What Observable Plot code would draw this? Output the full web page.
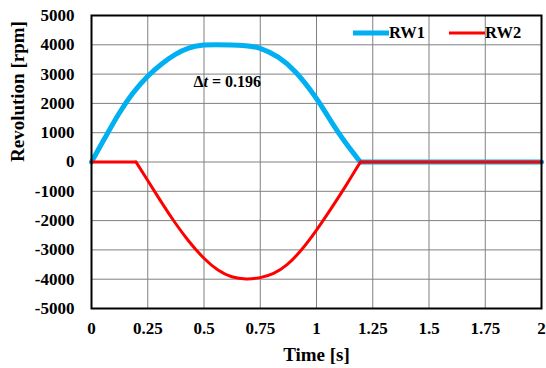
<!DOCTYPE html>
<html>
<head>
<meta charset="utf-8">
<script src="https://cdn.jsdelivr.net/npm/d3@7"></script>
<script src="https://cdn.jsdelivr.net/npm/@observablehq/plot@0.6"></script>
<style>
  html, body { margin: 0; padding: 0; background: #fff; }
  #wrap { position: relative; width: 546px; height: 368px; font-family: "Liberation Serif", "Times New Roman", serif; font-weight: bold; }
  #legend { position: absolute; top: 24px; left: 353px; display: flex; align-items: center; font-size: 16.5px; line-height: 18px; }
  #legend .item { display: flex; align-items: center; }
  #legend svg { display: block; }
</style>
</head>
<body>
<div id="wrap">
  <div id="chart"></div>
  <div id="legend"></div>
</div>
<script>
// ---- data ----
const rw1Time  = [0, 0.062, 0.121, 0.18, 0.25, 0.314, 0.373, 0.432, 0.491, 0.55, 0.62, 0.684, 0.75, 0.831, 0.904, 1.0, 1.066, 1.125, 1.195, 2.0];
const rw1Value = [0, 857, 1657, 2343, 2950, 3371, 3690, 3909, 4000, 4000, 4000, 3977, 3915, 3600, 3143, 2200, 1360, 680, 0, 0];
const rw1Breaks = [1.195];

const rw2Time  = [0, 0.198, 0.25, 0.31, 0.369, 0.429, 0.5, 0.563, 0.622, 0.689, 0.75, 0.809, 0.868, 0.926, 1.0, 1.074, 1.132, 1.195, 2.0];
const rw2Value = [0, 0, -629, -1371, -2057, -2686, -3314, -3714, -3943, -4010, -3960, -3830, -3540, -3086, -2343, -1486, -800, 0, 0];
const rw2Breaks = [0.198, 1.195];

const seriesNames = ["RW1", "RW2"];
const seriesColors = ["#00B0F0", "#FF0000"];
const seriesWidths = [5, 3];

const xTicks = [0, 0.25, 0.5, 0.75, 1, 1.25, 1.5, 1.75, 2];
const yTicks = [-5000, -4000, -3000, -2000, -1000, 0, 1000, 2000, 3000, 4000, 5000];

const annotationText = ["Δt = 0.196"];
const annotationTime = [0.453];
const annotationValue = [2740];

const xTitle = "Time [s]";
const yTitle = "Revolution [rpm]";

// split a series into segments at sharp corners (boundary points shared)
function segments(time, value, breaks) {
  const rows = [];
  let seg = 0;
  time.forEach((t, i) => {
    rows.push({t, v: value[i], seg});
    if (breaks.includes(t)) { seg++; rows.push({t, v: value[i], seg}); }
  });
  return rows;
}
const rw1 = segments(rw1Time, rw1Value, rw1Breaks);
const rw2 = segments(rw2Time, rw2Value, rw2Breaks);
const annot = annotationText.map((s, i) => ({s, t: annotationTime[i], v: annotationValue[i]}));

const font = "Liberation Serif";
const plot = Plot.plot({
  width: 546,
  height: 368,
  marginLeft: 91,
  marginRight: 5,
  marginTop: 15,
  marginBottom: 60,
  style: {fontFamily: font, fontWeight: "bold", fontSize: "17px", color: "#000", background: "#fff"},
  x: {domain: [0, 2]},
  y: {domain: [-5000, 5000]},
  marks: [
    Plot.gridX(xTicks, {stroke: "#808080", strokeOpacity: 1, strokeWidth: 1}),
    Plot.gridY(yTicks, {stroke: "#808080", strokeOpacity: 1, strokeWidth: 1}),
    Plot.axisX(xTicks, {tickSize: 0, tickPadding: 13, tickFormat: d => String(d), label: null, fontSize: 17}),
    Plot.axisY(yTicks, {tickSize: 0, tickPadding: 17, tickFormat: d => String(d), label: null, fontSize: 17}),
    Plot.line(rw1, {x: "t", y: "v", z: "seg", stroke: seriesColors[0], strokeWidth: seriesWidths[0], curve: "basis", strokeLinejoin: "round"}),
    Plot.line(rw2, {x: "t", y: "v", z: "seg", stroke: seriesColors[1], strokeWidth: seriesWidths[1], curve: "basis", strokeLinejoin: "round"}),
    Plot.text(annot, {x: "t", y: "v", text: "s", textAnchor: "start", fontSize: 16, fontWeight: "bold", fill: "#000"}),
    Plot.frame({stroke: "#000", strokeWidth: 2}),
    Plot.text([xTitle], {frameAnchor: "bottom", dy: 39, lineAnchor: "top", fontSize: 19, fontWeight: "bold", fill: "#000"}),
    Plot.text([yTitle], {frameAnchor: "left", dx: -74, rotate: -90, lineAnchor: "middle", fontSize: 19, fontWeight: "bold", fill: "#000"})
  ]
});
document.getElementById("chart").appendChild(plot);

// italic t in the annotation
d3.select(plot).selectAll("text").each(function() {
  if (this.textContent === annotationText[0]) {
    this.innerHTML = 'Δ<tspan font-style="italic">t</tspan> = 0.196';
  }
});

// legend
const legend = d3.select("#legend");
seriesNames.forEach((name, i) => {
  const item = legend.append("div").attr("class", "item").style("margin-right", i === 0 ? "24px" : "0");
  const sw = item.append("svg").attr("width", 36).attr("height", 10);
  sw.append("line").attr("x1", 0).attr("x2", 36).attr("y1", 5).attr("y2", 5)
    .attr("stroke", seriesColors[i]).attr("stroke-width", seriesWidths[i]);
  item.append("span").text(name);
});
</script>
</body>
</html>
